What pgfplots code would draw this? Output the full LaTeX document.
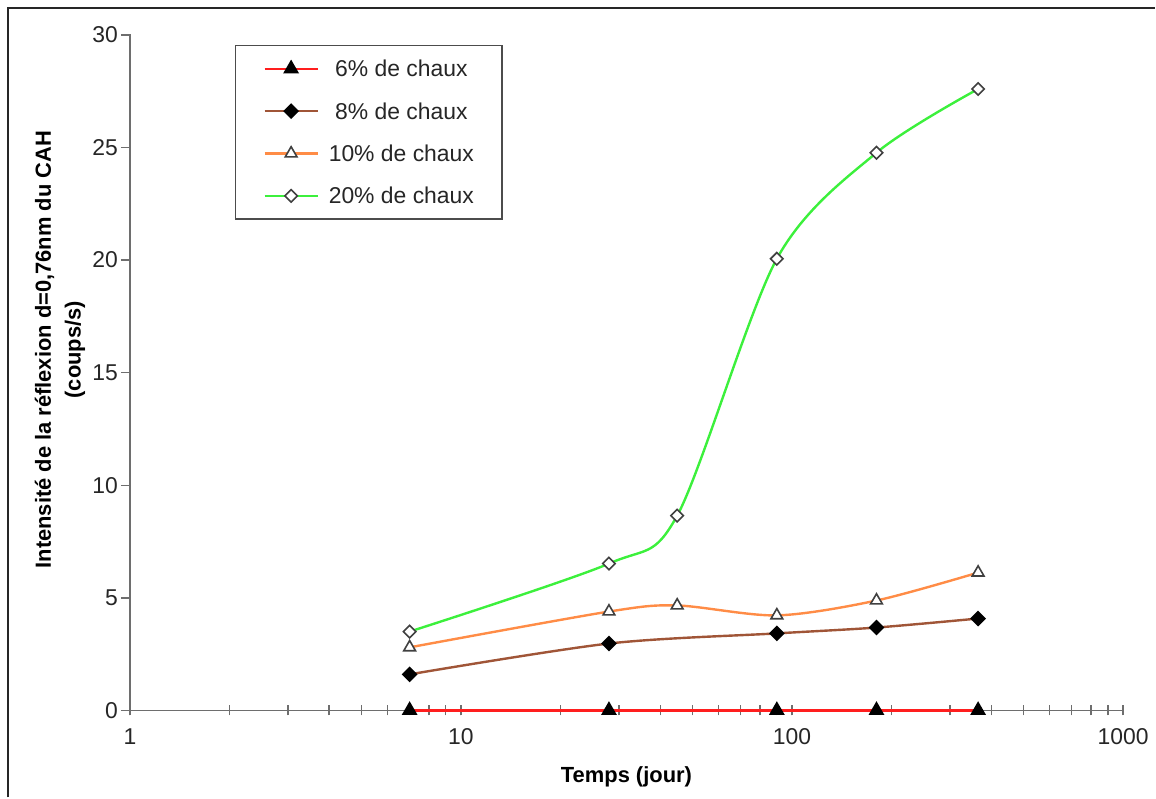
\documentclass[border=0pt]{standalone}
\usepackage{fontspec}
\setmainfont{Liberation Sans}
\usepackage{pgfplots}
\pgfplotsset{compat=1.18}
\definecolor{cred}{RGB}{255,30,30}
\definecolor{cbrown}{RGB}{160,85,55}
\definecolor{corange}{RGB}{255,140,70}
\definecolor{cgreen}{RGB}{60,240,60}
\definecolor{axgray}{RGB}{110,110,110}
\begin{document}
\begin{tikzpicture}
\begin{axis}[
  scale only axis, width=497bp, height=338bp,
  xmode=log, xmin=1, xmax=1000, ymin=0, ymax=30,
  clip=false,
  axis x line*=bottom, axis y line*=left,
  axis line style={axgray, line width=0.7bp},
  xtick={1,10,100,1000}, xticklabels={1,10,100,1000},
  ytick={0,5,...,30},
  tick align=center,
  major tick length=5bp, minor tick length=5bp,
  every tick/.style={axgray, line width=0.7bp},
  ytick style={xshift=-2bp},
  /pgf/number format/assume math mode=true,
  xticklabel shift=3bp,
  xticklabel style={font=\fontsize{11.5}{13}\selectfont, text=black!85},
  yticklabel style={font=\fontsize{11.5}{13}\selectfont, text=black!85},
  xlabel={Temps (jour)},
  xlabel style={font=\bfseries\fontsize{11}{13}\selectfont, at={(axis description cs:0.5,-0.099)}, anchor=center},
  ylabel={Intensité de la réflexion d=0,76nm du CAH\\(coups/s)},
  ylabel style={font=\bfseries\fontsize{11}{15}\selectfont, align=center, at={(axis description cs:-0.0704,0.534)}, anchor=center},
  legend style={at={(0.1056,0.985)}, anchor=north west, draw=black!70, line width=0.7bp,
    inner xsep=14bp, inner ysep=6.5bp, row sep=11.2bp, /tikz/column sep=5bp,
    nodes={inner sep=0pt, text height=9bp, text depth=1bp, font=\fontsize{11.5}{13}\selectfont, text=black!85}},
  legend cell align=center,
  legend image code/.code={\draw[mark repeat=2,mark phase=2,#1] plot coordinates {(0bp,0bp)(13.25bp,0bp)(26.5bp,0bp)};},
]
\addplot[cred, line width=1.2bp, smooth, mark=triangle*, mark size=3.4bp, mark options={fill=black, draw=black, solid}]
  coordinates {(7,0)(28,0)(90,0)(180,0)(365,0)};
\addlegendentry{6\% de chaux}
\addplot[cbrown, line width=1.2bp, smooth, mark=square*, mark size=2.2bp, mark options={rotate=45, fill=black, draw=black, solid}]
  coordinates {(7,1.6)(28,2.97)(90,3.42)(180,3.68)(365,4.08)};
\addlegendentry{8\% de chaux}
\addplot[corange, line width=1.2bp, smooth, mark=triangle*, mark size=3.4bp, mark options={fill=white, draw=black!75, line width=0.8bp, solid}]
  coordinates {(7,2.8)(28,4.39)(45,4.66)(90,4.22)(180,4.88)(365,6.12)};
\addlegendentry{10\% de chaux}
\addplot[cgreen, line width=1.2bp, smooth, mark=square*, mark size=2.2bp, mark options={rotate=45, fill=white, draw=black!75, line width=0.8bp, solid}]
  coordinates {(7,3.5)(28,6.52)(45,8.65)(90,20.06)(180,24.77)(365,27.6)};
\addlegendentry{20\% de chaux}
\end{axis}
\pgfresetboundingbox
\path ([xshift=-65bp,yshift=-43.5bp]current axis.south west) rectangle ([xshift=16bp,yshift=17.5bp]current axis.north east);
\draw[line width=1bp, black!85] ([xshift=-61bp,yshift=-43.5bp]current axis.south west) -- ([xshift=-61bp,yshift=13.5bp]current axis.north west) -- ([xshift=16bp,yshift=13.5bp]current axis.north east);
\end{tikzpicture}
\end{document}
